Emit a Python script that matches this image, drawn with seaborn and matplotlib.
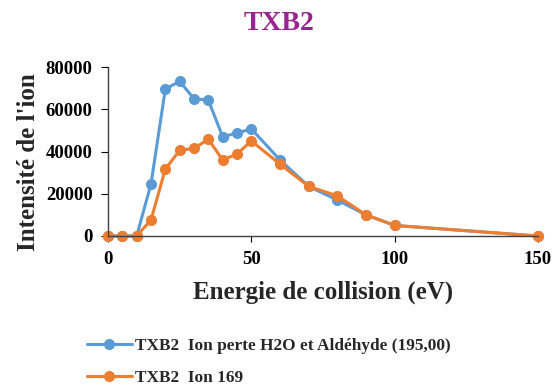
import matplotlib
matplotlib.use("Agg")
import matplotlib.pyplot as plt
import seaborn as sns
import pandas as pd

energy = [0, 5, 10, 15, 20, 25, 30, 35, 40, 45, 50, 60, 70, 80, 90, 100, 150]
ion_195 = [0, 0, 0, 24600, 69600, 73200, 65000, 64300, 47000, 48700, 50700, 36000, 23500, 17000, 10000, 5000, 0]
ion_169 = [0, 0, 0, 7600, 31700, 40500, 41500, 45800, 36000, 38800, 45000, 34000, 23500, 19000, 10000, 5000, 0]
series_names = ["TXB2  Ion perte H2O et Aldéhyde (195,00)", "TXB2  Ion 169"]
colors = ["#5B9BD5", "#ED7D31"]

sns.set_theme(style="white")
plt.rcParams['font.family'] = ['Liberation Serif', 'DejaVu Serif']
plt.rcParams['font.weight'] = 'bold'

df = pd.DataFrame({
    "energy": energy * 2,
    "value": ion_195 + ion_169,
    "series": [series_names[0]] * len(energy) + [series_names[1]] * len(energy),
})

fig = plt.figure(figsize=(5.54, 3.87), dpi=100)
ax = fig.add_axes([108/554, 1 - 236/387, 430/554, 169/387])
sns.lineplot(data=df, x="energy", y="value", hue="series", palette=colors,
             marker="o", markersize=8, markeredgewidth=0, linewidth=2.2, ax=ax)

ax.set_xlim(0, 150)
ax.set_ylim(0, 80000)
ax.set_xticks([0, 50, 100, 150])
ax.set_yticks([0, 20000, 40000, 60000, 80000])
for lab in ax.get_xticklabels() + ax.get_yticklabels():
    lab.set_fontweight('bold')
    lab.set_fontsize(13.5)
ax.tick_params(axis='y', direction='out', length=5, width=0.8, colors='black', left=True, pad=6)
ax.tick_params(axis='x', direction='out', length=4, width=0.8, colors='black', bottom=True, pad=7)
for s in ['top', 'right']:
    ax.spines[s].set_visible(False)
for s in ['left', 'bottom']:
    ax.spines[s].set_color('#404040')
    ax.spines[s].set_linewidth(1.0)
for line in ax.lines:
    line.set_clip_on(False)

ax.set_xlabel("Energie de collision (eV)", fontsize=18, fontweight='bold')
ax.set_ylabel("Intensité de l'ion", fontsize=18, fontweight='bold')
ax.xaxis.set_label_coords(0.5, -0.331)
ax.xaxis.label.set_verticalalignment('center')
ax.yaxis.set_label_coords(-0.186, 0.44)
ax.yaxis.label.set_verticalalignment('center')

fig.text(279/554, 1 - 24/387, "TXB2", ha='center', va='center',
         fontsize=20, fontweight='bold', color='#99248F')

handles, labels = ax.get_legend_handles_labels()
ax.get_legend().remove()
fig.legend(handles, labels, loc='upper left', bbox_to_anchor=(87/554, 1 - 338/387),
           frameon=False, prop={'weight': 'bold', 'size': 12.4}, handlelength=2.6,
           labelspacing=0.92, handletextpad=0.2, borderpad=0, borderaxespad=0)

fig.savefig("out.png", dpi=100)
